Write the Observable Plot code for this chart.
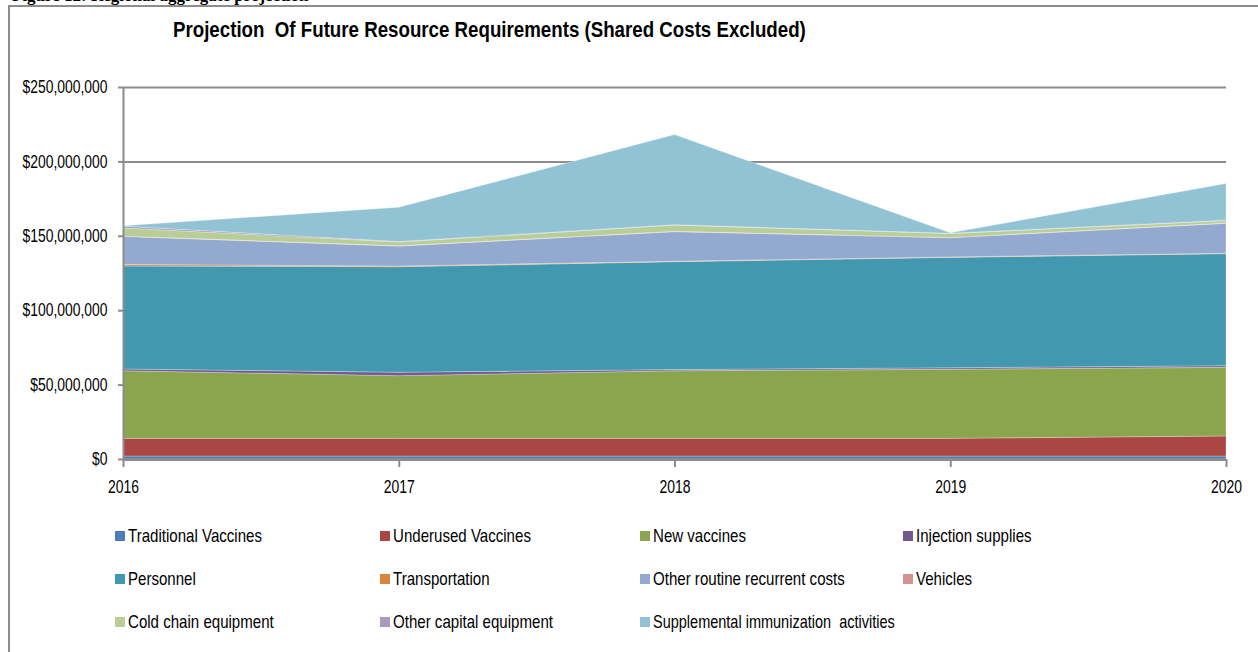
<!DOCTYPE html>
<html>
<head>
<meta charset="utf-8">
<script src="https://cdn.jsdelivr.net/npm/d3@7"></script>
<script src="https://cdn.jsdelivr.net/npm/@observablehq/plot@0.6"></script>
<style>
  html, body { margin: 0; padding: 0; background: #fff; overflow: hidden; }
  body { width: 1258px; height: 652px; position: relative;
         font-family: "Liberation Sans", Arial, sans-serif; }
  #caption { position: absolute; left: 12px; top: -14px; font-family: "Liberation Serif", serif;
             font-weight: bold; font-size: 17px; color: #000; white-space: nowrap; }
  #frame { position: absolute; left: 8px; top: 5px; width: 1260px; height: 660px;
           border-left: 2px solid #8c8c8c; border-top: 2px solid #8c8c8c; box-sizing: border-box; }
  #title { position: absolute; left: 173px; top: 17px; font-size: 22px; font-weight: bold;
           color: #000; white-space: pre; display: inline-block; transform-origin: 0 0; }
  #chart { position: absolute; left: 0; top: 0; }
  #legend { position: absolute; left: 0; top: 0; width: 1258px; height: 652px; }
  .item { position: absolute; display: flex; align-items: center; color: #000; white-space: nowrap; }
  .sw { width: 10px; height: 10px; margin-right: 3px; flex: none; }
  .lt { font-size: 19px; white-space: pre; display: inline-block; transform-origin: 0 50%; }
</style>
</head>
<body>
<div id="caption">Figure 12: Regional aggregate projection</div>
<div id="frame"></div>
<div id="title">Projection  Of Future Resource Requirements (Shared Costs Excluded)</div>
<div id="chart"></div>
<div id="legend"></div>
<script>
// ---- data (US$) ----
const years = [2016, 2017, 2018, 2019, 2020];
const seriesNames = [
  "Traditional Vaccines", "Underused Vaccines", "New vaccines", "Injection supplies",
  "Personnel", "Transportation", "Other routine recurrent costs", "Vehicles",
  "Cold chain equipment", "Other capital equipment", "Supplemental immunization  activities"
];
const traditionalVaccines = [2.0e6, 2.0e6, 2.0e6, 2.0e6, 2.0e6];
const underusedVaccines   = [11.9e6, 11.9e6, 11.9e6, 11.9e6, 13.5e6];
const newVaccines         = [45.4e6, 42.1e6, 45.4e6, 46.4e6, 46.1e6];
const injectionSupplies   = [1.2e6, 2.3e6, 0.8e6, 1.0e6, 1.1e6];
const personnel           = [69.2e6, 70.9e6, 72.5e6, 74.2e6, 75.3e6];
const transportation      = [1.0e6, 0.5e6, 0.3e6, 0.3e6, 0.3e6];
const otherRoutine        = [18.9e6, 13.4e6, 19.9e6, 12.9e6, 20.1e6];
const vehicles            = [0.2e6, 0.2e6, 0.2e6, 0.2e6, 0.2e6];
const coldChain           = [5.5e6, 2.5e6, 4.2e6, 2.6e6, 1.6e6];
const otherCapital        = [1.2e6, 0.3e6, 0.3e6, 0.2e6, 0.3e6];
const supplemental        = [0.2e6, 23.1e6, 60.5e6, 0.3e6, 24.6e6];
const yTicks = [0, 50e6, 100e6, 150e6, 200e6, 250e6];
const colors = ["#4a7ebb", "#aa4644", "#8aa54e", "#71588f", "#4298af", "#db843d",
                "#93a9cf", "#d19392", "#b9cd96", "#a99bbd", "#92c3d4"];

const seriesValues = [traditionalVaccines, underusedVaccines, newVaccines, injectionSupplies,
  personnel, transportation, otherRoutine, vehicles, coldChain, otherCapital, supplemental];

const rows = [];
seriesNames.forEach((name, i) => {
  years.forEach((yr, j) => rows.push({ series: name, year: yr, value: seriesValues[i][j] }));
});

const fmt = d => "$" + d3.format(",")(d);

const plot = Plot.plot({
  width: 1258,
  height: 500,
  marginLeft: 123,
  marginRight: 32,
  marginTop: 87,
  marginBottom: 41,
  style: { fontFamily: '"Liberation Sans", Arial, sans-serif', background: "transparent" },
  x: { type: "linear", domain: [2016, 2020], label: null, axis: null },
  y: { domain: [0, 250e6], label: null, axis: null },
  color: { domain: seriesNames, range: colors },
  marks: [
    Plot.gridY(yTicks, { stroke: "#8c8c8c", strokeOpacity: 1, strokeWidth: 2 }),
    Plot.areaY(rows, {
      x: "year", y: "value", fill: "series", z: "series",
      order: seriesNames, curve: "linear",
      stroke: "#ffffff", strokeOpacity: 0.35, strokeWidth: 0.8
    }),
    Plot.ruleX([2016], { stroke: "#8c8c8c", strokeWidth: 2 }),
    Plot.axisY({ ticks: yTicks, tickFormat: fmt, tickSize: 5, tickPadding: 11, stroke: "#8c8c8c",
      fontSize: 18, fill: "#000", label: null, strokeWidth: 2 }),
    Plot.ruleY([0], { stroke: "#8c8c8c", strokeWidth: 3 }),
    Plot.axisX({ ticks: years, tickFormat: "d", tickSize: 8, tickPadding: 13, stroke: "#8c8c8c",
      fontSize: 18, fill: "#000", label: null, strokeWidth: 2 })
  ]
});
document.getElementById("chart").appendChild(plot);

// condense axis tick labels (narrow face look), scaled to the reference widths
function condense(selector, targetWidestPx) {
  const texts = [...plot.querySelectorAll(selector)];
  const widest = Math.max(...texts.map(t => t.getComputedTextLength()));
  const f = targetWidestPx / widest;
  texts.forEach(t => {
    t.setAttribute("textLength", (t.getComputedTextLength() * f).toFixed(1));
    t.setAttribute("lengthAdjust", "spacingAndGlyphs");
  });
}
condense("g[aria-label='y-axis tick label'] text", 85);
condense("g[aria-label='x-axis tick label'] text", 31);

// title condensed to the reference width
const title = document.getElementById("title");
title.style.transform = `scaleX(${(633 / title.offsetWidth).toFixed(3)})`;

// ---- legend ----
const legendPos = [
  [115, 537], [380, 537], [640, 537], [903, 537],
  [115, 580], [380, 580], [640, 580], [903, 580],
  [115, 623], [380, 623], [640, 623]
];
const legend = document.getElementById("legend");
const spans = [];
seriesNames.forEach((name, i) => {
  const it = document.createElement("div");
  it.className = "item";
  it.style.left = legendPos[i][0] + "px";
  it.style.top = (legendPos[i][1] - 12) + "px";
  const sw = document.createElement("div");
  sw.className = "sw";
  sw.style.background = colors[i];
  const tx = document.createElement("span");
  tx.className = "lt";
  tx.textContent = name;
  it.appendChild(sw);
  it.appendChild(tx);
  legend.appendChild(it);
  spans.push(tx);
});
const lf = 134 / spans[0].offsetWidth;
spans.forEach((s, i) => {
  let f = lf;
  if (i === 10) f = 242 / s.offsetWidth;
  s.style.transform = `scaleX(${f.toFixed(3)})`;
});
</script>
</body>
</html>
